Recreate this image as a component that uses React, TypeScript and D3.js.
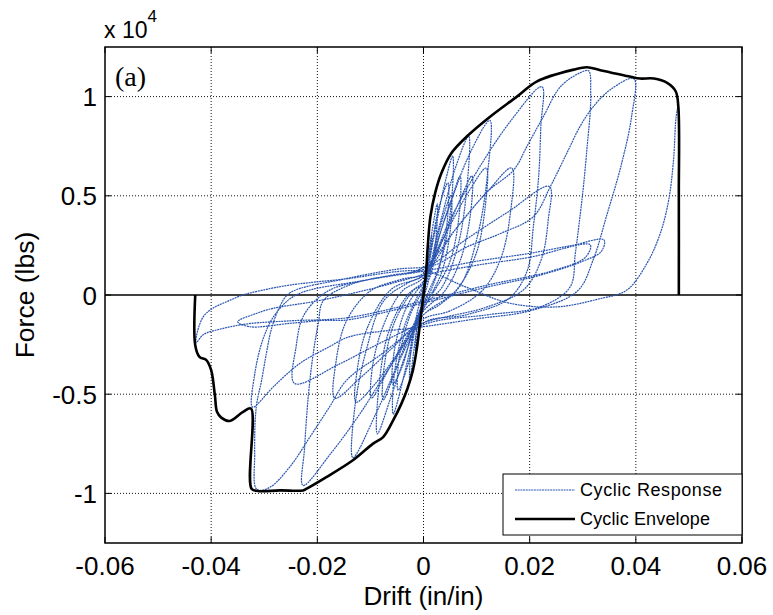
import React, { useEffect, useRef } from 'react';
import * as d3 from 'd3';

// axis ticks
const xTicks = [-0.06, -0.04, -0.02, 0, 0.02, 0.04, 0.06];
const xTickLabels = ['-0.06', '-0.04', '-0.02', '0', '0.02', '0.04', '0.06'];
const yTicks = [-1, -0.5, 0, 0.5, 1];
const yTickLabels = ['-1', '-0.5', '0', '0.5', '1'];

// cyclic envelope (drift in/in, force x 10^4 lbs)
const envelopeDrift = [
  -0.043, -0.043, -0.0422, -0.0409, -0.04, -0.0393, -0.0389, -0.0381, -0.0365, -0.034,
  -0.0325, -0.0324, -0.0312, -0.0271, -0.0227, -0.022, -0.0183, -0.0133, -0.0095, -0.0076,
  -0.0057, -0.0042, -0.003, -0.002, -0.0012, -0.0006, 0,
  0.0005, 0.0008, 0.0013, 0.0022, 0.0034, 0.0053, 0.0082, 0.0126, 0.0176, 0.0214,
  0.0283, 0.0308, 0.0333, 0.039, 0.0408, 0.0434, 0.0459, 0.0475, 0.048, 0.0481, 0.0481,
];
const envelopeForce = [
  0, -0.253, -0.312, -0.328, -0.379, -0.505, -0.589, -0.618, -0.635, -0.589,
  -0.572, -0.976, -0.988, -0.985, -0.985, -0.976, -0.918, -0.833, -0.749, -0.716,
  -0.631, -0.55, -0.47, -0.38, -0.26, -0.13, 0,
  0.12, 0.244, 0.395, 0.515, 0.616, 0.717, 0.8, 0.9, 1.0, 1.077,
  1.136, 1.148, 1.133, 1.1, 1.091, 1.091, 1.069, 1.027, 0.951, 0.5, 0,
];

// cyclic response, one array of [drift, force] per cycle
const loop01 = [[0, 0], [0.0008, 0.16], [0.0015, 0.3], [0.0013, 0.2], [0.0004, 0.05], [-0.0004, -0.06], [-0.0015, -0.28], [-0.0013, -0.18], [-0.0004, -0.04]];
const loop02 = [[0.0006, 0.12], [0.0016, 0.32], [0.0026, 0.46], [0.0024, 0.3], [0.0012, 0.1], [0, -0.02], [-0.0012, -0.16], [-0.0026, -0.44], [-0.0024, -0.28], [-0.0012, -0.09]];
const loop03 = [[0, 0.03], [0.0015, 0.25], [0.003, 0.45], [0.0046, 0.565], [0.0045, 0.38], [0.003, 0.15], [0.001, 0.02], [-0.001, -0.1], [-0.0028, -0.34], [-0.0048, -0.48], [-0.0046, -0.32], [-0.0025, -0.1]];
const loop04 = [[0, 0.04], [0.002, 0.3], [0.004, 0.56], [0.0055, 0.7], [0.0053, 0.48], [0.0038, 0.22], [0.0015, 0.03], [-0.001, -0.1], [-0.003, -0.33], [-0.0057, -0.6], [-0.0055, -0.4], [-0.0035, -0.15], [-0.001, 0]];
const loop04b = [[0.001, 0.1], [0.003, 0.33], [0.0052, 0.5], [0.0051, 0.34], [0.0035, 0.12], [0.001, -0.02], [-0.002, -0.18], [-0.004, -0.36], [-0.0058, -0.45], [-0.0056, -0.3], [-0.0035, -0.08], [-0.001, 0.03]];
const loop05 = [[0.001, 0.08], [0.003, 0.3], [0.0055, 0.5], [0.0069, 0.6], [0.0067, 0.4], [0.005, 0.17], [0.002, 0.02], [0, -0.05], [-0.003, -0.22], [-0.0058, -0.42], [-0.0076, -0.53], [-0.0074, -0.36], [-0.0055, -0.14], [-0.002, 0.02]];
const loop06 = [[0, 0.06], [0.003, 0.35], [0.006, 0.64], [0.0085, 0.8], [0.0082, 0.55], [0.0065, 0.25], [0.0035, 0.04], [0, -0.06], [-0.003, -0.27], [-0.0062, -0.52], [-0.0087, -0.7], [-0.0084, -0.46], [-0.0065, -0.18], [-0.003, 0]];
const loop07 = [[0, 0.07], [0.004, 0.3], [0.0072, 0.5], [0.0091, 0.6], [0.0089, 0.42], [0.007, 0.18], [0.004, 0.02], [0, -0.08], [-0.004, -0.25], [-0.0075, -0.42], [-0.0098, -0.52], [-0.0096, -0.36], [-0.0075, -0.15], [-0.004, 0.02]];
const loop08 = [[0, 0.09], [0.004, 0.38], [0.0085, 0.7], [0.0125, 0.88], [0.0121, 0.62], [0.0102, 0.3], [0.007, 0.05], [0.003, -0.05], [0, -0.1], [-0.004, -0.3], [-0.009, -0.6], [-0.0133, -0.82], [-0.013, -0.58], [-0.0108, -0.28], [-0.0075, -0.03], [-0.003, 0.06]];
const loop08b = [[0, 0.1], [0.004, 0.3], [0.0085, 0.52], [0.0118, 0.64], [0.0116, 0.44], [0.0098, 0.2], [0.006, 0.02], [0, -0.1], [-0.005, -0.3], [-0.0095, -0.46], [-0.0127, -0.54], [-0.0125, -0.38], [-0.0105, -0.16], [-0.006, 0.03]];
const loop09 = [[0, 0.1], [0.006, 0.33], [0.012, 0.52], [0.0166, 0.64], [0.0164, 0.42], [0.0145, 0.18], [0.011, 0.02], [0.005, -0.08], [0, -0.12], [-0.006, -0.27], [-0.012, -0.42], [-0.0167, -0.52], [-0.0165, -0.34], [-0.0145, -0.13], [-0.01, 0.02], [-0.004, 0.08]];
const loop10 = [[0, 0.11], [0.005, 0.38], [0.01, 0.62], [0.0165, 0.88], [0.0223, 1.05], [0.0221, 0.85], [0.0217, 0.6], [0.0207, 0.345], [0.0195, 0.12], [0.016, -0.02], [0.008, -0.1], [0, -0.14], [-0.006, -0.35], [-0.012, -0.6], [-0.0175, -0.8], [-0.0227, -0.96], [-0.0224, -0.77], [-0.0217, -0.51], [-0.0208, -0.3], [-0.0198, -0.14], [-0.0189, -0.03], [-0.014, 0.05], [-0.006, 0.1]];
const loop11 = [[0, 0.13], [0.008, 0.28], [0.016, 0.42], [0.0237, 0.547], [0.0235, 0.38], [0.0222, 0.18], [0.019, 0.03], [0.012, -0.06], [0, -0.14], [-0.008, -0.24], [-0.016, -0.35], [-0.0243, -0.446], [-0.024, -0.26], [-0.0225, -0.1], [-0.018, 0.02], [-0.01, 0.08]];
const loop12 = [[0, 0.14], [0.006, 0.33], [0.012, 0.52], [0.017, 0.63], [0.0195, 0.75], [0.0226, 0.9], [0.0258, 1.05], [0.0295, 1.12], [0.0311, 1.13], [0.0315, 1.02], [0.0314, 0.92], [0.0309, 0.77], [0.0302, 0.565], [0.0295, 0.4], [0.0286, 0.21], [0.0276, 0.04], [0.022, -0.06], [0.012, -0.1], [0, -0.15], [-0.008, -0.3], [-0.0145, -0.43], [-0.0177, -0.564], [-0.0214, -0.716], [-0.0252, -0.867], [-0.029, -0.97], [-0.0314, -0.98], [-0.0318, -0.8], [-0.0315, -0.564], [-0.0305, -0.43], [-0.0296, -0.295], [-0.0287, -0.177], [-0.0271, -0.06], [-0.0252, 0.01], [-0.015, 0.08], [-0.005, 0.13]];
const loop13 = [[0.002, 0.15], [0.008, 0.24], [0.0145, 0.31], [0.0207, 0.395], [0.0239, 0.547], [0.027, 0.715], [0.0295, 0.85], [0.032, 0.95], [0.0352, 1.035], [0.0396, 1.09], [0.0392, 0.9], [0.0372, 0.65], [0.0345, 0.4], [0.032, 0.18], [0.029, 0.02], [0.02, -0.08], [0.01, -0.12], [0, -0.16], [-0.0139, -0.21], [-0.0177, -0.26], [-0.0233, -0.345], [-0.0283, -0.463], [-0.0322, -0.565], [-0.0318, -0.4], [-0.0302, -0.22], [-0.028, -0.1], [-0.024, 0], [-0.012, 0.07]];
const loop14 = [[0, 0.12], [0.01, 0.17], [0.02, 0.21], [0.028, 0.25], [0.034, 0.278], [0.0335, 0.22], [0.03, 0.17], [0.022, 0.1], [0.012, 0.04], [0, -0.04], [-0.0145, -0.126], [-0.0189, -0.128], [-0.0252, -0.143], [-0.0327, -0.16], [-0.035, -0.135], [-0.0315, -0.093], [-0.0283, -0.067], [-0.02, -0.03], [-0.01, 0.03]];
const loop15 = [[0, 0.1], [0.01, 0.15], [0.02, 0.19], [0.0314, 0.253], [0.0305, 0.19], [0.024, 0.12], [0.012, 0.05], [0, -0.03], [-0.0145, -0.115], [-0.025, -0.13], [-0.033, -0.145], [-0.038, -0.17], [-0.0415, -0.2], [-0.0428, -0.24], [-0.0428, -0.21], [-0.0415, -0.11], [-0.0397, -0.067], [-0.0371, -0.034], [-0.034, 0], [-0.0302, 0.025], [-0.0252, 0.05], [-0.015, 0.08], [0, 0.12]];
const loop16 = [[0.008, 0.04], [0.016, -0.04], [0.025, -0.06], [0.033, -0.02], [0.0383, 0.025], [0.0421, 0.16], [0.0446, 0.31], [0.0462, 0.48], [0.0471, 0.68], [0.0476, 0.9], [0.048, 0.95], [0.0481, 0.6], [0.0481, 0.1]];

const cyclicLoops = [loop01, loop02, loop03, loop04, loop04b, loop05, loop06, loop07, loop08,
  loop08b, loop09, loop10, loop11, loop12, loop13, loop14, loop15, loop16];

const legendLabels = ['Cyclic Response', 'Cyclic Envelope'];

const W = 773;
const H = 615;
const FONT = '"Liberation Sans", Arial, sans-serif';
const BLUE = '#2a56b0';

function App() {
  const ref = useRef<SVGSVGElement>(null);

  useEffect(() => {
    const svg = d3.select(ref.current);
    svg.selectAll('*').remove();

    const left = 105, right = 742, top = 47, bottom = 543;
    const x = d3.scaleLinear().domain([-0.06, 0.06]).range([left, right]);
    const y = d3.scaleLinear().domain([-1.25, 1.25]).range([bottom, top]);

    svg.append('rect').attr('width', W).attr('height', H).attr('fill', '#fff');

    svg.append('clipPath').attr('id', 'plotClip')
      .append('rect')
      .attr('x', left).attr('y', top)
      .attr('width', right - left).attr('height', bottom - top);

    // grid
    const grid = svg.append('g');
    grid.selectAll('line.gx')
      .data(xTicks.slice(1, -1))
      .enter().append('line')
      .attr('x1', d => x(d)).attr('x2', d => x(d))
      .attr('y1', top).attr('y2', bottom)
      .attr('stroke', '#111').attr('stroke-width', 1)
      .attr('stroke-dasharray', '1,2');
    grid.selectAll('line.gy')
      .data(yTicks.filter(d => d !== 0))
      .enter().append('line')
      .attr('x1', left).attr('x2', right)
      .attr('y1', d => y(d)).attr('y2', d => y(d))
      .attr('stroke', '#111').attr('stroke-width', 1)
      .attr('stroke-dasharray', '1,2');

    // zero force line
    svg.append('line')
      .attr('x1', left).attr('x2', right)
      .attr('y1', y(0)).attr('y2', y(0))
      .attr('stroke', '#000').attr('stroke-width', 1.3);

    const plot = svg.append('g').attr('clip-path', 'url(#plotClip)');

    const line = d3.line<number[]>()
      .x(d => x(d[0]))
      .y(d => y(d[1]))
      .curve(d3.curveCatmullRom.alpha(0.5));

    const response = cyclicLoops.flat();
    plot.append('path')
      .datum(response)
      .attr('d', line)
      .attr('fill', 'none')
      .attr('stroke', BLUE)
      .attr('stroke-width', 1.2)
      .attr('stroke-dasharray', '2,0.7');

    const envelope = envelopeDrift.map((d, i) => [d, envelopeForce[i]]);
    plot.append('path')
      .datum(envelope)
      .attr('d', line)
      .attr('fill', 'none')
      .attr('stroke', '#000')
      .attr('stroke-width', 2.6)
      .attr('stroke-linejoin', 'round');

    // axes box and ticks
    svg.append('rect')
      .attr('x', left).attr('y', top)
      .attr('width', right - left).attr('height', bottom - top)
      .attr('fill', 'none').attr('stroke', '#000').attr('stroke-width', 1.5);

    const ticks = svg.append('g').attr('stroke', '#000').attr('stroke-width', 1);
    xTicks.forEach(t => {
      ticks.append('line').attr('x1', x(t)).attr('x2', x(t)).attr('y1', bottom).attr('y2', bottom - 6);
      ticks.append('line').attr('x1', x(t)).attr('x2', x(t)).attr('y1', top).attr('y2', top + 6);
    });
    yTicks.forEach(t => {
      ticks.append('line').attr('x1', left).attr('x2', left + 6).attr('y1', y(t)).attr('y2', y(t));
      ticks.append('line').attr('x1', right).attr('x2', right - 6).attr('y1', y(t)).attr('y2', y(t));
    });

    svg.selectAll('text.xt')
      .data(xTicks)
      .enter().append('text')
      .attr('x', d => x(d))
      .attr('y', 575)
      .attr('text-anchor', 'middle')
      .attr('font-family', FONT)
      .attr('font-size', 26)
      .text((d, i) => xTickLabels[i]);

    svg.selectAll('text.yt')
      .data(yTicks)
      .enter().append('text')
      .attr('x', 97)
      .attr('y', d => y(d) + 9.5)
      .attr('text-anchor', 'end')
      .attr('font-family', FONT)
      .attr('font-size', 26)
      .text((d, i) => yTickLabels[i]);

    // exponent
    const expo = svg.append('text')
      .attr('x', 104).attr('y', 38)
      .attr('font-family', FONT)
      .attr('font-size', 23);
    expo.append('tspan').text('x 10');
    expo.append('tspan').attr('dy', -16).attr('font-size', 17).text('4');

    svg.append('text')
      .attr('x', 115).attr('y', 86)
      .attr('font-family', '"Liberation Serif", "Times New Roman", serif')
      .attr('font-size', 28)
      .text('(a)');

    svg.append('text')
      .attr('x', x(0)).attr('y', 605)
      .attr('text-anchor', 'middle')
      .attr('font-family', FONT)
      .attr('font-size', 26)
      .text('Drift (in/in)');

    svg.append('text')
      .attr('transform', `translate(34,${y(0)}) rotate(-90)`)
      .attr('text-anchor', 'middle')
      .attr('font-family', FONT)
      .attr('font-size', 26.5)
      .text('Force (lbs)');

    // legend
    const lg = svg.append('g');
    lg.append('rect')
      .attr('x', 503).attr('y', 474)
      .attr('width', 239).attr('height', 61)
      .attr('fill', '#fff').attr('stroke', '#000').attr('stroke-width', 1);
    lg.append('line')
      .attr('x1', 515).attr('x2', 575).attr('y1', 490).attr('y2', 490)
      .attr('stroke', BLUE).attr('stroke-width', 1.2).attr('stroke-dasharray', '2,0.7');
    lg.append('line')
      .attr('x1', 515).attr('x2', 575).attr('y1', 519).attr('y2', 519)
      .attr('stroke', '#000').attr('stroke-width', 2.6);
    lg.selectAll('text')
      .data(legendLabels)
      .enter().append('text')
      .attr('x', 580)
      .attr('y', (d, i) => 496 + i * 29)
      .attr('font-family', FONT)
      .attr('font-size', 18)
      .attr('textLength', (d, i) => (i === 0 ? 142 : 130))
      .text(d => d);
  }, []);

  return (
    <svg ref={ref} width={W} height={H}
      style={{ position: 'absolute', left: 0, top: 0, display: 'block' }} />
  );
}

export default App;
